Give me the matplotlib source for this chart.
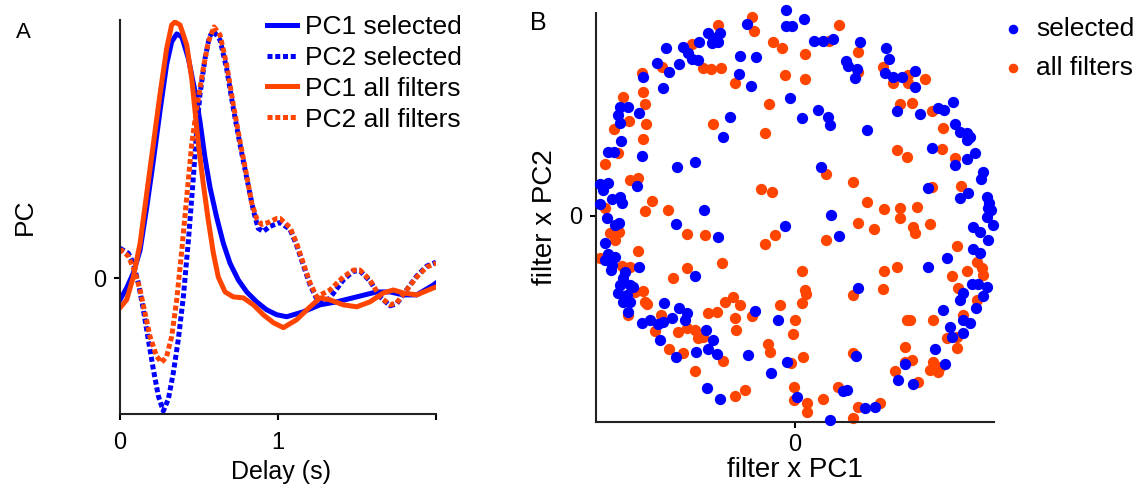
import matplotlib.pyplot as plt
import numpy as np

plt.rcParams["font.family"] = ["Liberation Sans", "DejaVu Sans"]

W, H = 1136, 496

BLUE = "#0000ff"
ORANGE = "#ff4500"

# panel A: principal components of the filters (delay in s, arbitrary units)
pc1_sel_t = [0, 0.042, 0.084, 0.127, 0.169, 0.211, 0.253, 0.295, 0.327, 0.359,
             0.391, 0.433, 0.475, 0.506, 0.538, 0.57, 0.612, 0.654, 0.696, 0.749,
             0.802, 0.865, 0.928, 0.992, 1.055, 1.16, 1.266, 1.371, 1.498, 1.624,
             1.709, 1.793, 1.878, 1.983, 2.0]
pc1_sel = [-0.022, -0.010, 0.005, 0.028, 0.071, 0.118, 0.168, 0.215, 0.238, 0.246,
           0.243, 0.221, 0.188, 0.158, 0.121, 0.091, 0.061, 0.035, 0.015, -0.002,
           -0.014, -0.024, -0.032, -0.037, -0.039, -0.034, -0.027, -0.024, -0.019, -0.014,
           -0.014, -0.017, -0.017, -0.007, -0.005]

pc2_sel_t = [0, 0.053, 0.084, 0.116, 0.148, 0.179, 0.211, 0.243, 0.274, 0.306,
             0.338, 0.369, 0.401, 0.433, 0.464, 0.485, 0.506, 0.538, 0.566, 0.591,
             0.633, 0.675, 0.717, 0.759, 0.802, 0.844, 0.875, 0.907, 0.949, 1.013,
             1.076, 1.118, 1.16, 1.203, 1.245, 1.287, 1.329, 1.413, 1.477, 1.519,
             1.582, 1.646, 1.709, 1.751, 1.814, 1.878, 1.941, 2.0]
pc2_sel = [0.030, 0.025, 0.015, -0.005, -0.032, -0.062, -0.092, -0.119, -0.134, -0.122,
           -0.095, -0.062, -0.019, 0.038, 0.101, 0.148, 0.185, 0.221, 0.243, 0.249,
           0.240, 0.211, 0.171, 0.135, 0.101, 0.068, 0.050, 0.047, 0.052, 0.056,
           0.049, 0.033, 0.013, -0.007, -0.021, -0.025, -0.020, -0.002, 0.007, 0.007,
           -0.003, -0.019, -0.028, -0.026, -0.012, 0.002, 0.012, 0.016]

pc1_all_t = [0, 0.042, 0.084, 0.127, 0.169, 0.211, 0.253, 0.295, 0.327, 0.348,
             0.38, 0.422, 0.454, 0.475, 0.496, 0.527, 0.559, 0.591, 0.622, 0.665,
             0.717, 0.781, 0.844, 0.907, 0.971, 1.034, 1.118, 1.203, 1.266, 1.329,
             1.413, 1.498, 1.582, 1.667, 1.73, 1.793, 1.878, 1.983, 2.0]
pc1_all = [-0.030, -0.022, 0.001, 0.035, 0.085, 0.135, 0.185, 0.231, 0.255, 0.258,
           0.255, 0.235, 0.201, 0.168, 0.135, 0.095, 0.058, 0.025, 0.001, -0.014,
           -0.019, -0.020, -0.027, -0.037, -0.045, -0.050, -0.042, -0.029, -0.020, -0.022,
           -0.027, -0.029, -0.024, -0.015, -0.012, -0.015, -0.017, -0.010, -0.009]

pc2_all_t = [0, 0.011, 0.053, 0.095, 0.127, 0.158, 0.19, 0.232, 0.264, 0.295,
             0.327, 0.359, 0.391, 0.422, 0.454, 0.485, 0.527, 0.559, 0.595, 0.633,
             0.675, 0.717, 0.759, 0.802, 0.833, 0.865, 0.896, 0.939, 0.992, 1.013,
             1.076, 1.118, 1.16, 1.203, 1.245, 1.329, 1.413, 1.477, 1.519, 1.582,
             1.646, 1.709, 1.751, 1.814, 1.878, 1.941, 2.0]
pc2_all = [0.026, 0.028, 0.022, 0.006, -0.012, -0.035, -0.059, -0.079, -0.085, -0.079,
           -0.059, -0.022, 0.028, 0.081, 0.135, 0.171, 0.211, 0.238, 0.253, 0.245,
           0.215, 0.175, 0.138, 0.103, 0.076, 0.060, 0.054, 0.056, 0.060, 0.060,
           0.051, 0.035, 0.015, -0.005, -0.019, -0.012, 0.001, 0.008, 0.008, -0.002,
           -0.019, -0.027, -0.025, -0.012, 0.001, 0.011, 0.015]

# panel B: projections of each filter on (PC1, PC2), arbitrary units
selected_scores = [
    (-9, 206), (-9, 190), (-3, 190), (-48, 192), (-87, 183), (-75, 183), (-82, 178),
    (-77, 174), (-83, 173), (-96, 174), (-112, 169), (-107, 163), (-103, 157), (-97, 156),
    (-129, 168), (-138, 153), (-116, 152), (-126, 144), (-152, 139), (-132, 128),
    (-55, 160), (-39, 159), (-56, 142), (-44, 130), (-175, 109), (-167, 109), (-177, 101),
    (-175, 93), (-156, 103), (-174, 75), (-187, 64), (-181, 64), (-153, 60), (-5, 118),
    (7, 98), (-65, 99), (-72, 79), (-118, 49), (-100, 54), (-158, 30), (-195, 32),
    (-187, 33), (-192, 26), (-183, 17), (-175, 19), (-173, 13), (-195, 12), (-91, 6),
    (9, 197), (19, 175), (28, 175), (38, 177), (65, 174), (91, 168), (94, 157), (51, 155),
    (53, 150), (62, 147), (60, 138), (90, 143), (98, 139), (107, 139), (120, 145),
    (120, 129), (102, 105), (23, 106), (33, 99), (35, 91), (125, 102), (143, 108),
    (149, 106), (158, 114), (72, 86), (160, 92), (165, 84), (172, 83), (172, 76),
    (175, 79), (137, 68), (180, 63), (172, 57), (160, 51), (26, 49), (188, 44), (186, 37),
    (133, 28), (173, 23), (165, 18), (192, 19), (194, 13), (196, 6), (36, 1),
    (-188, -2), (-180, -9), (-176, -7), (-119, -8), (-77, -21), (-10, -10), (-190, -27),
    (-187, -38), (-180, -41), (-190, -44), (-183, -49), (-184, -54), (-156, -51),
    (-100, -60), (-170, -56), (-172, -62), (-175, -69), (-165, -69), (-162, -71),
    (-177, -77), (-168, -79), (-172, -86), (-165, -86), (-167, -96), (-131, -87),
    (-116, -92), (-108, -97), (-110, -104), (-123, -102), (-132, -106), (-137, -108),
    (-145, -104), (-153, -107), (-89, -114), (-135, -124), (-99, -136), (-119, -141),
    (-82, -124), (-87, -133), (-78, -138), (-40, -95), (-17, -104), (-47, -139),
    (-8, -146), (-24, -157), (-88, -172), (-75, -183), (2, -181),
    (193, 8), (192, -1), (198, -9), (178, -11), (185, -16), (193, -24), (44, -20),
    (152, -42), (133, -51), (178, -33), (185, -37), (63, -72), (177, -68), (183, -68),
    (192, -71), (188, -80), (168, -77), (165, -84), (148, -94), (181, -92), (168, -104),
    (175, -107), (155, -111), (157, -121), (168, -117), (140, -133), (61, -140),
    (110, -148), (150, -148), (103, -164), (118, -168), (48, -175), (52, -174),
    (70, -192), (80, -191), (35, -204),
]
all_scores = [
    (-43, 199), (-41, 185), (-77, 191), (-103, 172), (-133, 149), (-92, 148), (-84, 147),
    (-74, 148), (-153, 143), (-22, 174), (-13, 168), (-60, 133), (-10, 141), (-152, 124),
    (-172, 119), (-150, 112), (-166, 95), (-149, 92), (-181, 87), (-152, 77), (-177, 63),
    (-190, 52), (-26, 112), (-82, 92), (-30, 83), (-165, 36), (-157, 38), (-143, 15),
    (-190, 8), (-150, 5), (-127, 6), (-34, 27), (-23, 24),
    (44, 191), (34, 175), (10, 162), (63, 164), (63, 144), (10, 137), (88, 149), (98, 133),
    (113, 141), (113, 133), (130, 137), (105, 112), (117, 113), (137, 105), (148, 88),
    (102, 66), (112, 59), (147, 67), (160, 58), (31, 42), (58, 34), (137, 29), (166, 30),
    (72, 14), (89, 7), (105, 8), (122, 9),
    (-185, -17), (-176, -16), (-180, -24), (-108, -18), (-90, -19), (-20, -19), (-30, -28),
    (-195, -42), (-157, -35), (-173, -50), (-165, -51), (-73, -47), (-108, -52),
    (-122, -62), (-160, -76), (-152, -75), (-150, -86), (-148, -88), (-167, -99),
    (-134, -99), (-140, -115), (-117, -116), (-108, -112), (-100, -114), (-97, -122),
    (-92, -121), (-126, -133), (-112, -137), (-72, -145), (-100, -155), (-70, -86),
    (-62, -81), (-55, -89), (-87, -97), (-78, -96), (-60, -102), (-59, -114), (-43, -100),
    (-15, -89), (0, -104), (-2, -118), (-27, -128), (-25, -136), (-4, -147), (-60, -180),
    (-50, -174), (-1, -171), (-1, -184),
    (63, -7), (79, -13), (105, -2), (118, -11), (120, -17), (135, -8), (31, -24),
    (162, -30), (182, -46), (187, -52), (188, -59), (172, -55), (157, -60), (7, -55),
    (89, -55), (102, -51), (88, -73), (58, -79), (10, -74), (11, -78), (7, -87),
    (163, -72), (182, -84), (168, -99), (112, -104), (115, -104), (138, -104),
    (152, -122), (162, -121), (162, -132), (110, -131), (58, -137), (8, -141),
    (117, -144), (110, -146), (138, -146), (145, -151), (135, -154), (143, -156),
    (100, -155), (123, -166), (12, -187), (12, -196), (28, -183), (43, -171),
    (63, -191), (85, -187), (58, -202),
]

fig = plt.figure(figsize=(W / 100, H / 100), dpi=100)

# ---------------- panel A ----------------
axA = fig.add_axes((120 / W, 1 - 414 / H, 316 / W, 394 / H))
lw = 3.6
dot = (0, (1.0, 0.55))
axA.plot(pc1_sel_t, pc1_sel, color=BLUE, lw=lw, label="PC1 selected")
axA.plot(pc2_sel_t, pc2_sel, color=BLUE, lw=lw, ls=dot, dash_capstyle="butt",
         label="PC2 selected")
axA.plot(pc1_all_t, pc1_all, color=ORANGE, lw=lw, label="PC1 all filters")
axA.plot(pc2_all_t, pc2_all, color=ORANGE, lw=lw, ls=dot, dash_capstyle="butt",
         label="PC2 all filters")

axA.set_xlim(0, 2.0)
axA.set_ylim(-0.137, 0.260)
axA.set_xticks([0, 1, 2], ["0", "1", ""])
axA.set_yticks([0], ["0"])
axA.tick_params(axis="both", direction="out", length=4, width=1.5, labelsize=17)
axA.tick_params(axis="x", pad=9)
axA.tick_params(axis="y", pad=6)
for side in ["top", "right"]:
    axA.spines[side].set_visible(False)
for side in ["left", "bottom"]:
    axA.spines[side].set_linewidth(1.5)
    axA.spines[side].set_color("#222222")

axA.set_xlabel("Delay (s)", fontsize=18, va="center")
axA.xaxis.set_label_coords(0.509, -0.147)
axA.set_ylabel("PC", fontsize=19, va="center")
axA.yaxis.set_label_coords(-0.300, 0.50)

axA.legend(
    loc="upper left",
    bbox_to_anchor=(267 / W, 1 - 15 / H),
    bbox_transform=fig.transFigure,
    frameon=False,
    fontsize=19,
    handlelength=1.15,
    handletextpad=0.3,
    labelspacing=0.26,
    borderpad=0,
    borderaxespad=0,
)

fig.text(23 / W, 1 - 33 / H, "A", fontsize=16, ha="center", va="center")

# ---------------- panel B ----------------
axB = fig.add_axes((596 / W, 1 - 421.7 / H, 398 / W, 409 / H))
sel = np.array(selected_scores)
alls = np.array(all_scores)
axB.scatter(alls[:, 0], alls[:, 1], s=66, color=ORANGE, lw=0, clip_on=False,
            label="all filters", zorder=2)
axB.scatter(sel[:, 0], sel[:, 1], s=66, color=BLUE, lw=0, clip_on=False,
            label="selected", zorder=3)

axB.set_xlim(-199, 199)
axB.set_ylim(-206, 203)
axB.set_xticks([0], ["0"])
axB.set_yticks([0], ["0"])
axB.tick_params(axis="both", direction="out", length=4, width=1.5, labelsize=17)
axB.tick_params(axis="x", pad=5)
axB.tick_params(axis="y", pad=6)
for side in ["top", "right"]:
    axB.spines[side].set_visible(False)
for side in ["left", "bottom"]:
    axB.spines[side].set_linewidth(1.5)
    axB.spines[side].set_color("#222222")

axB.set_xlabel("filter x PC1", fontsize=20, va="center")
axB.xaxis.set_label_coords(0.5, -0.118)
axB.set_ylabel("filter x PC2", fontsize=20, va="center")
axB.yaxis.set_label_coords(-0.128, 0.5)

handles, labels = axB.get_legend_handles_labels()
axB.legend(
    handles[::-1],
    labels[::-1],
    loc="upper left",
    bbox_to_anchor=(1000 / W, 1 - 17 / H),
    bbox_transform=fig.transFigure,
    frameon=False,
    fontsize=19,
    scatterpoints=1,
    markerscale=0.85,
    handlelength=1.0,
    handletextpad=0.36,
    labelspacing=0.56,
    borderpad=0,
    borderaxespad=0,
)

fig.text(538 / W, 1 - 23 / H, "B", fontsize=18, ha="center", va="center")

fig.savefig("out.png", dpi=100)
